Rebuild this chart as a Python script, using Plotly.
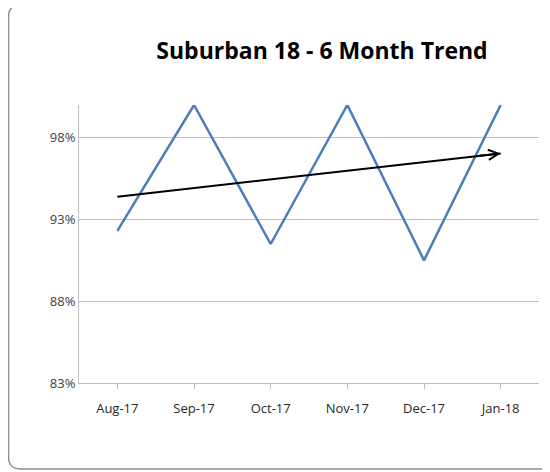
import numpy as np
import plotly.graph_objects as go

months = ["Aug-17", "Sep-17", "Oct-17", "Nov-17", "Dec-17", "Jan-18"]
values = [0.923, 1.00, 0.915, 1.00, 0.905, 1.00]
y_ticks = [0.83, 0.88, 0.93, 0.98]
title_text = "Suburban 18 - 6 Month Trend"

idx = np.arange(len(months))
slope, intercept = np.polyfit(idx, values, 1)
trend = slope * idx + intercept

OFF = 8  # page body margin
W, H = 550 - OFF, 472 - OFF
L, R, T, B = 79 - OFF, 539 - OFF, 105 - OFF, 383 - OFF


def px(x):
    return (x - OFF - L) / (R - L)


def py(y):
    return (B - (y - OFF)) / (B - T)


fig = go.Figure()
fig.add_trace(go.Scatter(x=idx, y=values, mode="lines",
                         line=dict(color="#4a7ebb", width=2.5),
                         showlegend=False, hoverinfo="skip"))
fig.add_trace(go.Scatter(x=idx, y=trend, mode="lines",
                         line=dict(color="black", width=2),
                         showlegend=False, hoverinfo="skip"))

ax_pt = idx[-1] - 0.3
fig.add_annotation(x=idx[-1], y=trend[-1], ax=ax_pt, ay=slope * ax_pt + intercept,
                   xref="x", yref="y", axref="x", ayref="y",
                   text="", showarrow=True, arrowhead=5, arrowwidth=2,
                   arrowsize=1, arrowcolor="black", standoff=0)

# rounded chart border (page pixel coordinates)
x0, x1, y0, y1, r = 8.5, 570, 5, 469, 12
path = (f"M {px(x1)},{py(y0)} L {px(x0 + r)},{py(y0)} "
        f"Q {px(x0)},{py(y0)} {px(x0)},{py(y0 + r)} "
        f"L {px(x0)},{py(y1 - r)} "
        f"Q {px(x0)},{py(y1)} {px(x0 + r)},{py(y1)} "
        f"L {px(x1)},{py(y1)}")
fig.add_shape(type="path", path=path, xref="paper", yref="paper",
              line=dict(color="#8c8c8c", width=1.5), layer="below")

fig.update_layout(
    width=W, height=H,
    margin=dict(l=L, r=W - R, t=T, b=H - B),
    paper_bgcolor="white", plot_bgcolor="white",
    title=dict(text=f"<b>{title_text}</b>", x=(322 - OFF) / W, y=1 - (51 - OFF) / H,
               xanchor="center", yanchor="middle",
               font=dict(family="Open Sans", size=23, color="black")),
    font=dict(family="Open Sans", color="#333333"),
)
fig.update_xaxes(
    range=[-0.5, len(months) - 0.5],
    tickmode="array", tickvals=idx, ticktext=months,
    showgrid=False, zeroline=False,
    showline=True, linecolor="#bfbfbf", linewidth=1,
    ticks="outside", ticklen=5, tickcolor="#bfbfbf",
    tickfont=dict(size=13, color="#262626"),
    ticklabelstandoff=8,
)
fig.update_yaxes(
    range=[0.83, 1.0],
    tickmode="array", tickvals=y_ticks, tickformat=".0%",
    showgrid=True, gridcolor="#bfbfbf", gridwidth=1,
    zeroline=False,
    showline=True, linecolor="#bfbfbf", linewidth=1,
    tickfont=dict(size=13, color="#404040"),
)

fig.write_html("out.html")
